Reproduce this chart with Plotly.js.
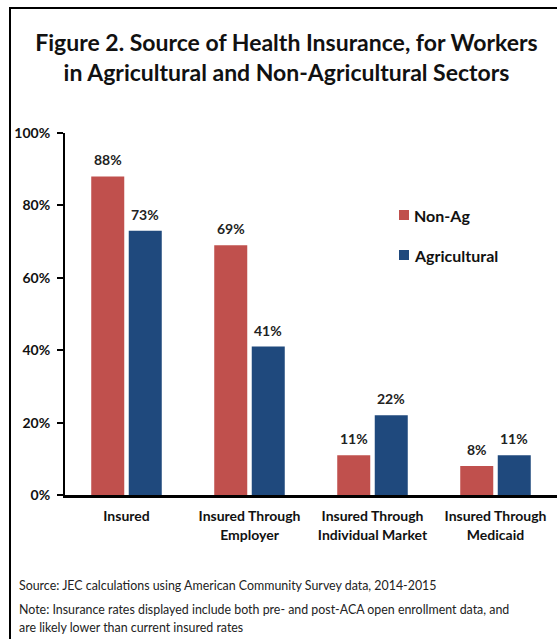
<!DOCTYPE html>
<html>
<head>
<meta charset="utf-8">
<script src="https://cdn.plot.ly/plotly-3.0.1.min.js"></script>
<style>
html,body{margin:0;padding:0;background:#fff;}
#chart{width:557px;height:639px;}
</style>
</head>
<body>
<div id="chart"></div>
<script>
const categories = ["Insured", "Insured Through<br>Employer", "Insured Through<br>Individual Market", "Insured Through<br>Medicaid"];
const nonAgValues = [88, 69, 11, 8];
const agValues = [73, 41, 22, 11];
const seriesNames = ["Non-Ag", "Agricultural"];
const yTickVals = [0, 20, 40, 60, 80, 100];
const yTickText = ["0%", "20%", "40%", "60%", "80%", "100%"];

const W = 557, H = 639;
const M = {l: 65, r: 0, t: 133, b: 144};
const plotW = W - M.l - M.r, plotH = H - M.t - M.b;
const px2x = p => (p - M.l) / plotW;
const px2y = p => 1 - (p - M.t) / plotH;

const FONT = "Lato, 'Open Sans', sans-serif";
const red = "#C0504D", blue = "#1F497D";
const colors = [red, blue];
const bargap = 0.39, bargroupgap = 0.12;

const traces = [
  {type: "bar", name: seriesNames[0], x: categories, y: nonAgValues,
   marker: {color: red}, showlegend: false, hoverinfo: "skip"},
  {type: "bar", name: seriesNames[1], x: categories, y: agValues,
   marker: {color: blue}, showlegend: false, hoverinfo: "skip"}
];

// data labels
const slot = plotW / categories.length;
const groupW = slot * (1 - bargap);
const offs = [-groupW / 4, groupW / 4];
const annotations = [];
[nonAgValues, agValues].forEach((vals, si) => {
  vals.forEach((v, i) => {
    annotations.push({x: categories[i], y: v, xref: "x", yref: "y",
      text: "<b>" + v + "%</b>", showarrow: false, yanchor: "bottom",
      xshift: offs[si], yshift: 6,
      font: {family: FONT, size: 14, color: "#222"}});
  });
});

// legend (drawn as keys + labels)
const shapes = [];
const legendRows = [215, 255];
seriesNames.forEach((name, si) => {
  const cy = legendRows[si];
  shapes.push({type: "rect", xref: "paper", yref: "paper",
    x0: px2x(399), x1: px2x(409), y0: px2y(cy - 5), y1: px2y(cy + 5),
    fillcolor: colors[si], line: {width: 0}});
  annotations.push({x: px2x(412), y: px2y(cy), xref: "paper", yref: "paper",
    xanchor: "left", yanchor: "middle", showarrow: false, text: "<b>" + name + "</b>",
    font: {family: FONT, size: 16, color: "#111"}});
});

const notes = [
  {text: "Source: JEC calculations using American Community Survey data, 2014-2015", y: 585},
  {text: "Note: Insurance rates displayed include both pre- and post-ACA open enrollment data, and", y: 609},
  {text: "are likely lower than current insured rates", y: 627}
];
notes.forEach(n => annotations.push({x: px2x(17), y: px2y(n.y), xref: "paper", yref: "paper",
  xanchor: "left", yanchor: "middle", showarrow: false, text: n.text,
  font: {family: FONT, size: 12.4, color: "#222"}}));

shapes.push({type: "line", xref: "paper", yref: "paper", x0: px2x(10), x1: px2x(10), y0: px2y(8), y1: px2y(650), line: {color: "#000", width: 2}});
shapes.push({type: "line", xref: "paper", yref: "paper", x0: px2x(9), x1: px2x(570), y0: px2y(8), y1: px2y(8), line: {color: "#000", width: 2}});

const layout = {
  width: W, height: H,
  margin: M,
  paper_bgcolor: "#fff", plot_bgcolor: "#fff",
  font: {family: FONT, color: "#111"},
  title: {text: "<b>Figure 2. Source of Health Insurance, for Workers<br>in Agricultural and Non-Agricultural Sectors</b>",
          x: 286.5 / W, xref: "container", xanchor: "center", y: 1 - 51 / H, yanchor: "middle",
          font: {family: FONT, size: 23, color: "#111"}},
  barmode: "group", bargap: bargap, bargroupgap: bargroupgap,
  xaxis: {showline: true, linecolor: "#000", linewidth: 2.5, ticks: "",
          tickfont: {family: FONT, size: 14, color: "#111", weight: "bold"},
          ticklabelstandoff: 7, fixedrange: true},
  yaxis: {range: [0, 100], tickvals: yTickVals, ticktext: yTickText,
          showline: true, linecolor: "#000", linewidth: 2, ticks: "outside",
          ticklen: 6, tickwidth: 2, tickcolor: "#000", showgrid: false, zeroline: false,
          tickfont: {family: FONT, size: 14, color: "#111", weight: "bold"},
          ticklabelstandoff: 4, fixedrange: true},
  showlegend: false,
  annotations: annotations,
  shapes: shapes
};

Plotly.newPlot("chart", traces, layout, {displayModeBar: false, staticPlot: true});
</script>
</body>
</html>
